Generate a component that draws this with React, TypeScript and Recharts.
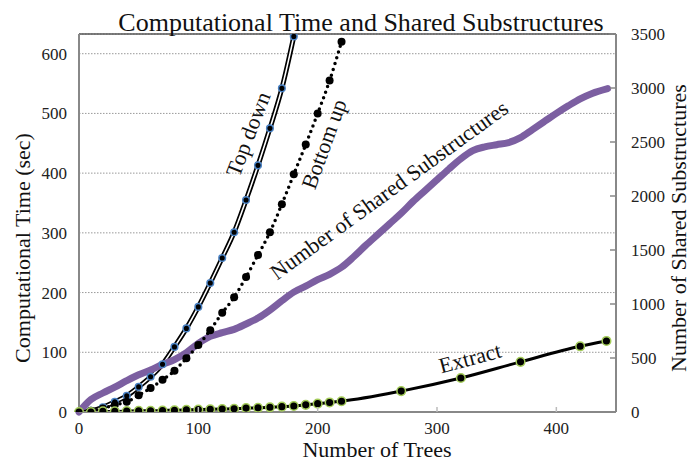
import { ComposedChart, Line, XAxis, YAxis, CartesianGrid, ReferenceLine } from 'recharts'

// number of trees (x) and the series
const topDownTrees = [0, 10, 20, 30, 40, 50, 60, 70, 80, 90, 100, 110, 120, 130, 140, 150, 160, 170, 180]
const topDownTime = [0, 2, 8, 17, 27, 42, 59, 80, 109, 140, 176, 216, 258, 301, 355, 413, 475, 542, 629]

const bottomUpTrees = [0, 10, 20, 30, 40, 50, 60, 70, 80, 90, 100, 110, 120, 130, 140, 150, 160, 170, 180, 190, 200, 210, 220]
const bottomUpTime = [0, 2, 6, 12, 17, 28, 40, 54, 69, 90, 112, 137, 166, 192, 226, 263, 301, 348, 398, 448, 500, 555, 620]

const extractTrees = [0, 10, 20, 30, 40, 50, 60, 70, 80, 90, 100, 110, 120, 130, 140, 150, 160, 170, 180, 190, 200, 210, 220, 270, 320, 370, 420, 442]
const extractTime = [0, 0, 1, 1, 1.5, 2, 2, 2.5, 3, 3.5, 4, 4.5, 5, 5.5, 6.5, 7, 8, 9, 10, 12, 14, 16, 18, 35, 57, 84, 110, 119]

const sharedTrees = [0, 10, 20, 30, 40, 50, 60, 70, 80, 90, 100, 110, 120, 130, 140, 150, 160, 170, 180, 190, 200, 210, 220, 230, 240, 250, 260, 270, 280, 290, 300, 310, 320, 330, 340, 350, 360, 370, 380, 390, 400, 410, 420, 430, 443]
const sharedCount = [0, 115, 176, 230, 290, 345, 389, 440, 485, 550, 635, 700, 735, 765, 815, 870, 944, 1030, 1110, 1165, 1225, 1275, 1340, 1435, 1540, 1640, 1740, 1840, 1950, 2050, 2150, 2250, 2345, 2420, 2455, 2475, 2495, 2540, 2615, 2690, 2765, 2835, 2900, 2950, 2995]

const xTicks = [0, 100, 200, 300, 400]
const leftTicks = [0, 100, 200, 300, 400, 500, 600]
const rightTicks = [0, 500, 1000, 1500, 2000, 2500, 3000, 3500]

type Row = { x: number; topDown?: number; bottomUp?: number; extract?: number; shared?: number }

function buildRows(): Row[] {
  const map = new Map<number, Row>()
  const put = (xs: number[], ys: number[], key: keyof Row) => {
    xs.forEach((x, i) => {
      const r = map.get(x) || { x }
      ;(r as any)[key] = ys[i]
      map.set(x, r)
    })
  }
  put(topDownTrees, topDownTime, 'topDown')
  put(bottomUpTrees, bottomUpTime, 'bottomUp')
  put(extractTrees, extractTime, 'extract')
  put(sharedTrees, sharedCount, 'shared')
  return Array.from(map.values()).sort((a, b) => a.x - b.x)
}

const data = buildRows()
const FONT = '"Liberation Serif", "Times New Roman", serif'

const XTick = ({ x, y, payload }: any) => (
  <g>
    {payload.value > 0 && <line x1={x} x2={x} y1={y - 5} y2={y} stroke="#bbb" strokeWidth={1.5} />}
    <text x={x} y={y + 22} textAnchor="middle" fontSize={17} fontFamily={FONT} fill="#222">
      {payload.value}
    </text>
  </g>
)

const LeftTick = ({ x, y, payload }: any) => (
  <text x={x - 12} y={y} dy="0.35em" textAnchor="end" fontSize={17} fontFamily={FONT} fill="#222">
    {payload.value}
  </text>
)

const RightTick = ({ x, y, payload }: any) => (
  <g>
    <line x1={x - 6} x2={x} y1={y} y2={y} stroke="#888" strokeWidth={1.5} />
    <text x={x + 15} y={y} dy="0.35em" textAnchor="start" fontSize={17} fontFamily={FONT} fill="#222">
      {payload.value}
    </text>
  </g>
)

export default function App() {
  return (
    <div style={{ position: 'absolute', left: 0, top: 0, width: 690, height: 461, background: '#fff' }}>
      <ComposedChart width={690} height={461} data={data} margin={{ top: 34, right: 0, bottom: 0, left: 0 }}>
        <CartesianGrid yAxisId="left" vertical={false} stroke="#999" strokeDasharray="1.5 1.5" />
        <XAxis
          dataKey="x"
          type="number"
          domain={[0, 450]}
          ticks={xTicks}
          height={49}
          tickSize={0}
          tickMargin={0}
          tickLine={false}
          axisLine={{ stroke: '#888', strokeWidth: 2 }}
          tick={<XTick />}
        />
        <YAxis
          yAxisId="left"
          domain={[0, 633]}
          ticks={leftTicks}
          width={79}
          tickSize={0}
          tickMargin={0}
          tickLine={false}
          axisLine={{ stroke: '#888', strokeWidth: 2 }}
          tick={<LeftTick />}
          allowDataOverflow
        />
        <YAxis
          yAxisId="right"
          orientation="right"
          domain={[0, 3500]}
          ticks={rightTicks}
          width={74}
          tickSize={0}
          tickMargin={0}
          tickLine={false}
          axisLine={{ stroke: '#888', strokeWidth: 2 }}
          tick={<RightTick />}
        />
        <ReferenceLine yAxisId="left" y={633} stroke="#555" strokeWidth={1.5} />

        <Line
          yAxisId="left"
          type="monotone"
          dataKey="topDown"
          stroke="#000"
          strokeWidth={5}
          dot={false}
          connectNulls
          isAnimationActive={false}
        />
        <Line
          yAxisId="left"
          type="monotone"
          dataKey={(d: Row) => d.topDown}
          name="topDownInner"
          stroke="#fff"
          strokeWidth={1.6}
          dot={{ r: 3.3, fill: '#000', stroke: '#4a82c4', strokeWidth: 1.5 }}
          connectNulls
          isAnimationActive={false}
        />
        <Line
          yAxisId="right"
          type="monotone"
          dataKey="shared"
          stroke="#7c5fa1"
          strokeWidth={7}
          strokeLinecap="round"
          dot={false}
          connectNulls
          isAnimationActive={false}
        />
        <Line
          yAxisId="left"
          type="monotone"
          dataKey="bottomUp"
          stroke="#000"
          strokeWidth={3.5}
          strokeDasharray="0 6"
          strokeLinecap="round"
          dot={{ r: 4, fill: '#000', stroke: 'none' }}
          connectNulls
          isAnimationActive={false}
        />
        <Line
          yAxisId="left"
          type="monotone"
          dataKey="extract"
          stroke="#000"
          strokeWidth={3}
          dot={{ r: 4.3, fill: '#000', stroke: '#a4cc5a', strokeWidth: 1.5 }}
          connectNulls
          isAnimationActive={false}
        />
      </ComposedChart>

      <svg width={690} height={461} style={{ position: 'absolute', left: 0, top: 0, pointerEvents: 'none' }}>
        <g fontFamily={FONT} fill="#111">
          <text x={361} y={31} fontSize={26} textAnchor="middle">
            Computational Time and Shared Substructures
          </text>
          <text x={377} y={457} fontSize={22} textAnchor="middle">
            Number of Trees
          </text>
          <text x={22} y={248} fontSize={22} textAnchor="middle" dominantBaseline="central" transform="rotate(-90 22 248)">
            Computational Time (sec)
          </text>
          <text x={678} y={228} fontSize={22} textAnchor="middle" dominantBaseline="central" transform="rotate(-90 678 228)">
            Number of Shared Substructures
          </text>
          <text x={248} y={134} fontSize={22} textAnchor="middle" dominantBaseline="central" transform="rotate(-69 248 134)">
            Top down
          </text>
          <text x={324} y={144} fontSize={22} textAnchor="middle" dominantBaseline="central" transform="rotate(-70 324 144)">
            Bottom up
          </text>
          <text x={389} y={190} fontSize={22} textAnchor="middle" dominantBaseline="central" transform="rotate(-36 389 190)">
            Number of Shared Substructures
          </text>
          <text x={470} y={358} fontSize={22} textAnchor="middle" dominantBaseline="central" transform="rotate(-15 470 358)">
            Extract
          </text>
        </g>
      </svg>
    </div>
  )
}
